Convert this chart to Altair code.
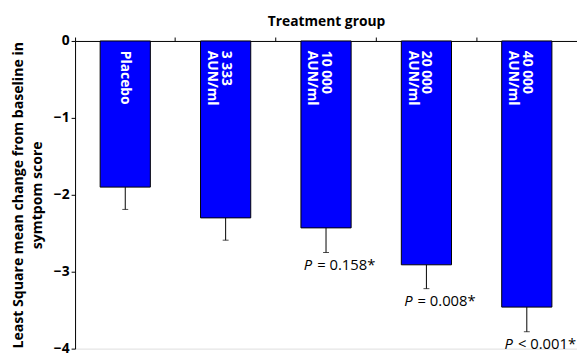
import altair as alt
import pandas as pd

groups = ["Placebo", "3 333\nAUN/ml", "10 000\nAUN/ml", "20 000\nAUN/ml", "40 000\nAUN/ml"]
means = [-1.90, -2.30, -2.43, -2.91, -3.46]
errors = [0.29, 0.29, 0.32, 0.31, 0.32]
p_texts = ["", "", "= 0.158*", "= 0.008*", "< 0.001*"]

df = pd.DataFrame({
    "group": groups,
    "mean": means,
    "err": errors,
    "ptext": p_texts,
})
df["lower"] = df["mean"] - df["err"]
df["pflag"] = ["" if t == "" else "P" for t in p_texts]

FONT = "Open Sans"

x = alt.X(
    "group:N",
    sort=groups,
    scale=alt.Scale(paddingInner=0, paddingOuter=0),
    axis=alt.Axis(
        orient="top",
        title="Treatment group",
        labels=False,
        bandPosition=0,
        tickSize=4,
        tickColor="black",
        domainColor="black",
        titleFont=FONT,
        titleFontSize=14,
        titleFontWeight="bold",
        titleColor="black",
        titlePadding=8,
    ),
)

yscale = alt.Scale(domain=[-4, 0], nice=False, zero=False)

base = alt.Chart(df)

bars = base.mark_bar(
    width=alt.RelativeBandSize(0.5), color="#0000ff", stroke="black", strokeWidth=1
).encode(
    x=x,
    y=alt.Y(
        "mean:Q",
        scale=yscale,
        axis=alt.Axis(
            values=[0, -1, -2, -3, -4],
            format="d",
            grid=False,
            tickSize=4,
            tickColor="black",
            domainColor="black",
            labelFont=FONT,
            labelFontSize=14,
            labelFontWeight="bold",
            labelColor="black",
            labelPadding=2,
            title=["Least Square mean change from baseline in", "symtpom score"],
            titleFont=FONT,
            titleFontSize=14.3,
            titleFontWeight="bold",
            titleColor="black",
            titleLineHeight=19,
            titlePadding=9,
        ),
    ),
    y2=alt.datum(0),
)

err_rule = base.mark_rule(color="black", strokeWidth=1).encode(
    x=alt.X("group:N", sort=groups),
    y="mean:Q",
    y2="lower:Q",
)

err_cap = base.mark_tick(color="black", size=6, thickness=1, orient="horizontal").encode(
    x=alt.X("group:N", sort=groups),
    y="lower:Q",
)

bar_labels = base.mark_text(
    angle=90, align="left", baseline="middle", dx=10, color="white",
    font=FONT, fontSize=14, fontWeight="bold", lineBreak="\n", lineHeight=14,
).encode(
    x=alt.X("group:N", sort=groups),
    y=alt.datum(0),
    text="group:N",
)

p_italic = base.mark_text(
    align="right", baseline="top", dx=-14, dy=6, color="black",
    font=FONT, fontSize=15, fontStyle="italic",
).encode(
    x=alt.X("group:N", sort=groups),
    y="lower:Q",
    text="pflag:N",
)

p_rest = base.mark_text(
    align="left", baseline="top", dx=-9, dy=6, color="black",
    font=FONT, fontSize=15,
).encode(
    x=alt.X("group:N", sort=groups),
    y="lower:Q",
    text="ptext:N",
)

chart = (
    alt.layer(bars, err_rule, err_cap, bar_labels, p_italic, p_rest)
    .properties(
        width=509,
        height=312,
        autosize=alt.AutoSizeParams(type="none"),
        padding={"left": 68, "top": 31, "right": 0, "bottom": 3},
    )
    .configure_view(stroke=None)
    .configure(background="white")
)

chart.save("out.html", embed_options={"renderer": "svg", "actions": False})
